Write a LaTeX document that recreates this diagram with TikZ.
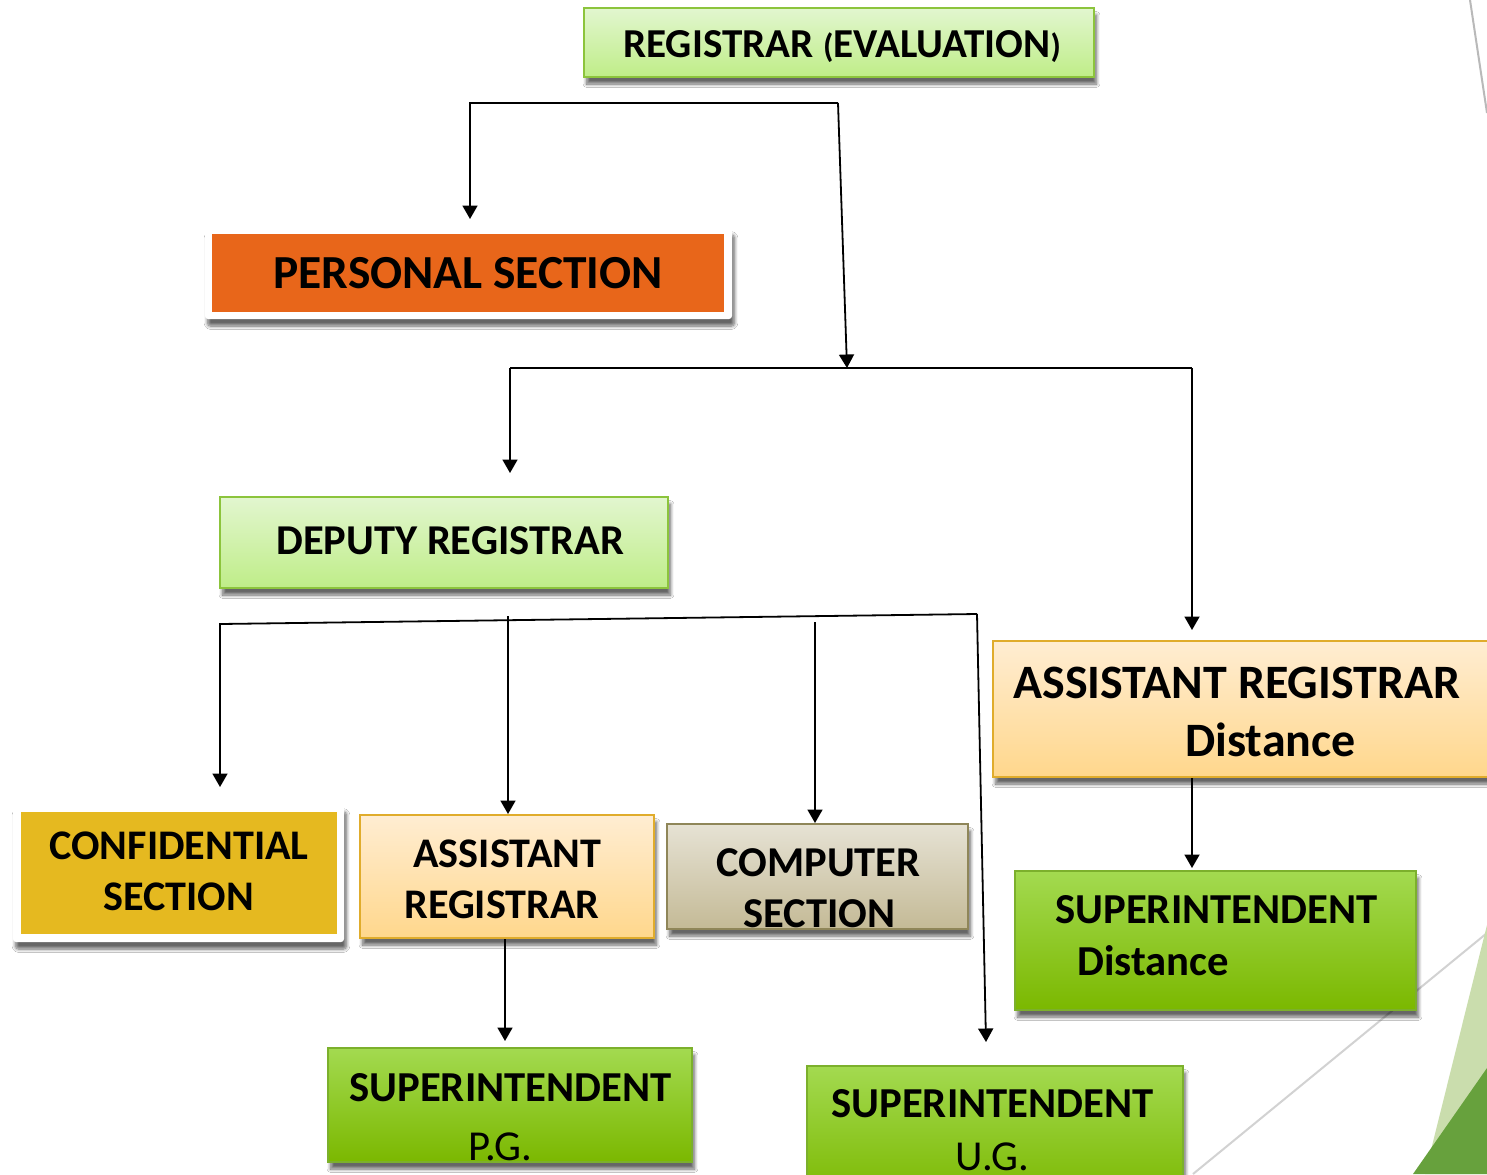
\documentclass[tikz,border=0pt]{standalone}
\usepackage{fontspec}
\setmainfont{Carlito}
\usepackage{tikz}
\usetikzlibrary{arrows.meta, fit, shadows.blur}

\definecolor{lgtop}{HTML}{E2F6CF}
\definecolor{lgbot}{HTML}{BFED88}
\definecolor{lgline}{HTML}{8CC43C}
\definecolor{gtop}{HTML}{A3DA50}
\definecolor{gbot}{HTML}{7BB800}
\definecolor{gline}{HTML}{7CB02C}
\definecolor{ptop}{HTML}{FFEDD2}
\definecolor{pbot}{HTML}{FFD78C}
\definecolor{pline}{HTML}{E0AC2C}
\definecolor{ctop}{HTML}{E6E2D4}
\definecolor{cbot}{HTML}{C4BA96}
\definecolor{cline}{HTML}{8F8659}
\definecolor{orng}{HTML}{E8661A}
\definecolor{gold}{HTML}{E5B920}
\definecolor{leafl}{HTML}{CADDAD}
\definecolor{leafd}{HTML}{67A13D}

\newcommand{\boxfont}[1]{\fontsize{#1}{#1}\selectfont\bfseries}

\begin{document}
\begin{tikzpicture}[x=0.02cm, y=-0.02cm,
	shad/.style={blur shadow={shadow xshift=0.05cm, shadow yshift=-0.14cm, shadow blur steps=8, shadow opacity=60}},
	boxbase/.style={inner sep=0pt, line width=0.04cm, shad},
	lgbox/.style={boxbase, draw=lgline, top color=lgtop, bottom color=lgbot},
	gbox/.style={boxbase, draw=gline, top color=gtop, bottom color=gbot},
	pbox/.style={boxbase, draw=pline, top color=ptop, bottom color=pbot},
	kbox/.style={boxbase, draw=cline, top color=ctop, bottom color=cbot},
	framebox/.style={boxbase, fill=white, rounded corners=0.06cm},
	txt/.style={anchor=base west, inner sep=0pt},
	ln/.style={line width=0.036cm},
	arr/.style={ln, -{Triangle[length=0.27cm, width=0.3cm]}}]
	\useasboundingbox (0,0) rectangle (1487,1174);
	\fill[white] (0,0) rectangle (1487,1174);
	% slide corner
	\draw[color=gray!55, line width=0.04cm] (1470,0) -- (1487,113);
	\draw[color=gray!35, line width=0.04cm] (1193,1174) -- (1487,933);
	\fill[leafl] (1487,925) -- (1425,1174) -- (1487,1174) -- cycle;
	\fill[leafd] (1487,1068) -- (1413,1174) -- (1487,1174) -- cycle;
	% boxes
	\node[lgbox, fit={(584,8) (1094,77)}] (reg) {};
	\node[framebox, fit={(205,228) (732,319)}] (pers) {};
	\node[inner sep=0pt, fill=orng, fit={(212,234) (724,312)}] (pers-in) {};
	\node[lgbox, fit={(220,497) (668,588)}] (dep) {};
	\node[framebox, fit={(13,805) (344,942)}] (conf) {};
	\node[inner sep=0pt, fill=gold, fit={(21,812) (337,934)}] (conf-in) {};
	\node[pbox, fit={(360,815) (654,938)}] (asst) {};
	\node[kbox, fit={(667,824) (968,929)}] (comp) {};
	\node[pbox, fit={(993,641) (1520,777)}] (ard) {};
	\node[gbox, fit={(1015,871) (1416,1010)}] (sd) {};
	\node[gbox, fit={(328,1048) (692,1162)}] (pg) {};
	\node[gbox, fit={(807,1066) (1183,1200)}] (ug) {};
	% texts
	\node[txt, font=\boxfont{23.4}] (reg-t) at (623,57) {REGISTRAR {\fontsize{19}{19}\selectfont(}EVALUATION{\fontsize{19}{19}\selectfont)}};
	\node[txt, font=\boxfont{27}] (pers-t) at (273,288) {PERSONAL SECTION};
	\node[txt, font=\boxfont{24.2}] (dep-t) at (276,554) {DEPUTY REGISTRAR};
	\node[txt, font=\boxfont{24}] (conf-t1) at (49,859) {CONFIDENTIAL};
	\node[txt, font=\boxfont{24}] (conf-t2) at (103,910) {SECTION};
	\node[txt, font=\boxfont{24}] (asst-t1) at (413,867) {ASSISTANT};
	\node[txt, font=\boxfont{24}] (asst-t2) at (404,918) {REGISTRAR};
	\node[txt, font=\boxfont{24.2}] (comp-t1) at (716,876) {COMPUTER};
	\node[txt, font=\boxfont{24.2}] (comp-t2) at (743,927) {SECTION};
	\node[txt, font=\boxfont{27.3}] (ard-t1) at (1013,698) {ASSISTANT REGISTRAR};
	\node[txt, font=\boxfont{27.3}] (ard-t2) at (1185,756) {Distance};
	\node[txt, font=\boxfont{24.3}] (sd-t1) at (1055,923) {SUPERINTENDENT};
	\node[txt, font=\boxfont{24.3}] (sd-t2) at (1077,975) {Distance};
	\node[txt, font=\boxfont{24.3}] (pg-t1) at (349,1101) {SUPERINTENDENT};
	\node[txt, font=\fontsize{24.3}{24.3}\selectfont] (pg-t2) at (468,1160) {P.G.};
	\node[txt, font=\boxfont{24.3}] (ug-t1) at (831,1117) {SUPERINTENDENT};
	\node[txt, font=\fontsize{24.3}{24.3}\selectfont] (ug-t2) at (955,1170) {U.G.};
	% connectors
	\coordinate (a1) at (470,103);
	\coordinate (a2) at (838,103);
	\coordinate (b0) at (847,368);
	\coordinate (b1) at (510,368);
	\coordinate (b2) at (1192,368);
	\coordinate (c1) at (220,624);
	\coordinate (c2) at (977,614);
	\coordinate (c3) at (508,616);
	\coordinate (c4) at (815,622);
	\coordinate (c5) at (986,1042);
	\draw[arr, shorten >=0.16cm] (a2) -- (a1) -- (a1 |- pers.north);
	\draw[arr] (a2) -- (b0);
	\draw[ln] (b1) -- (b2);
	\draw[arr, shorten >=0.46cm] (b1) -- (b1 |- dep.north);
	\draw[arr, shorten >=0.2cm] (b2) -- (b2 |- ard.north);
	\draw[arr, shorten >=0.34cm] (c2) -- (c1) -- (c1 |- conf.north);
	\draw[arr] (c3) -- (c3 |- asst.north);
	\draw[arr] (c4) -- (c4 |- comp.north);
	\draw[arr] (c2) -- (c5);
	\draw[arr, shorten >=0.12cm] ([xshift=-0.04cm]asst.south) -- ([xshift=-0.04cm]asst.south |- pg.north);
	\draw[arr, shorten >=0.04cm] (b2 |- ard.south) -- (b2 |- sd.north);
\end{tikzpicture}
\end{document}
